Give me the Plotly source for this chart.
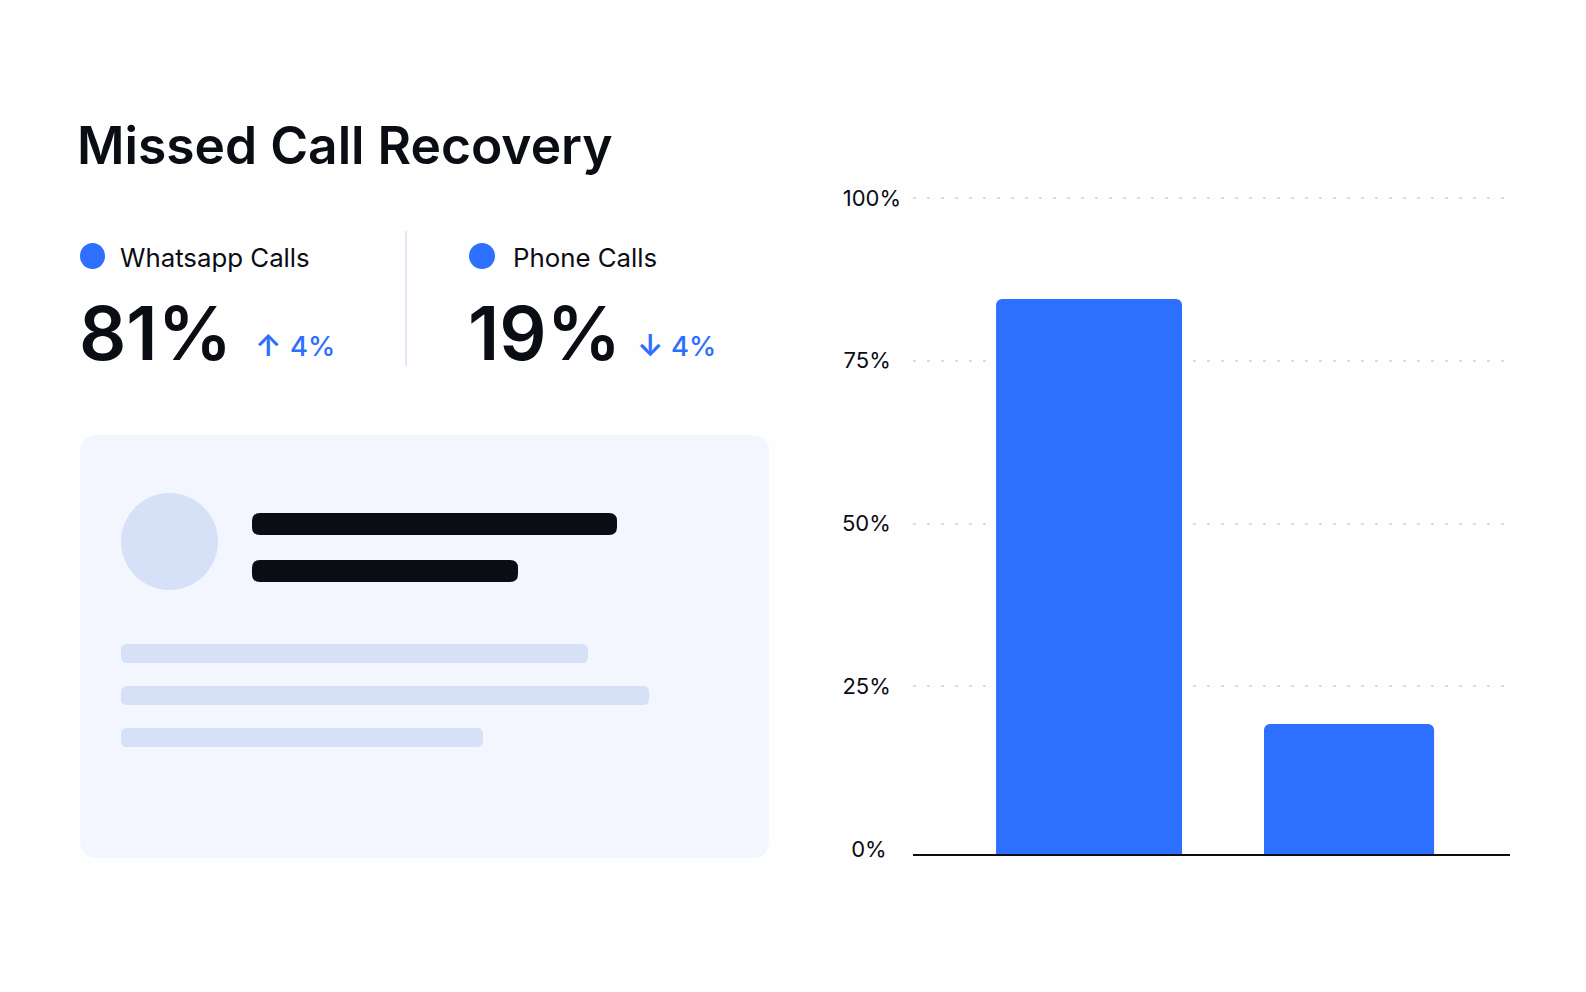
import plotly.graph_objects as go

categories = ["Whatsapp Calls", "Phone Calls"]
bar_values = [84.5, 19.2]
tick_vals = [0, 25, 50, 75, 100]
grid_vals = [25, 50, 75, 100]
tick_text = ["0%\u00a0\u00a0\u200a", "25%\u00a0\u2009", "50%\u00a0\u2009", "75%\u00a0\u2009", "100%"]
kpi_values = ["81%", "19%"]
kpi_arrows = ["↑", "↓"]
kpi_deltas = ["4%", "4%"]

W = 1586
H = 992
BLUE = "#2d6fff"
INK = "#0a0d14"
PALE = "#d6e0f7"
FONT = "Inter"
# the baseline in the picture sits just under the 0% level
AXIS_FLOOR = -0.77
# bars start below the floor so their rounded bottoms get clipped away
BAR_BASE = -4


def px(x):
    return x / W


def py(y):
    return 1 - y / H


def rounded(x0, y0, x1, y1, r, color):
    # rounded rect in page pixels, y going down
    path = (
        f"M {px(x0 + r)} {py(y0)} L {px(x1 - r)} {py(y0)} "
        f"Q {px(x1)} {py(y0)} {px(x1)} {py(y0 + r)} L {px(x1)} {py(y1 - r)} "
        f"Q {px(x1)} {py(y1)} {px(x1 - r)} {py(y1)} L {px(x0 + r)} {py(y1)} "
        f"Q {px(x0)} {py(y1)} {px(x0)} {py(y1 - r)} L {px(x0)} {py(y0 + r)} "
        f"Q {px(x0)} {py(y0)} {px(x0 + r)} {py(y0)} Z"
    )
    return dict(type="path", xref="paper", yref="paper", path=path,
                fillcolor=color, line=dict(width=0), layer="below")


def oval(x0, y0, x1, y1, color):
    return dict(type="circle", xref="paper", yref="paper", x0=px(x0), x1=px(x1),
                y0=py(y1), y1=py(y0), fillcolor=color, line=dict(width=0), layer="below")


def label(text, x, y, size, color=INK, weight=400):
    return dict(text=text, x=px(x), y=py(y), xref="paper", yref="paper",
                xanchor="left", yanchor="middle", showarrow=False, borderpad=0,
                font=dict(family=FONT, size=size, color=color, weight=weight))


shapes = [
    rounded(80, 435, 769, 858, 18, "#f3f6ff"),
    oval(121, 493, 218, 590, PALE),
    rounded(252, 513, 617, 535, 8, INK),
    rounded(252, 560, 518, 582, 8, INK),
    rounded(121, 644, 588, 663, 6, PALE),
    rounded(121, 686, 649, 705, 6, PALE),
    rounded(121, 728, 483, 747, 6, PALE),
    oval(80, 243, 105, 269, BLUE),
    oval(469, 243, 495, 269, BLUE),
    dict(type="line", xref="paper", yref="paper", x0=px(406), x1=px(406),
         y0=py(231), y1=py(366), line=dict(color=PALE, width=1.5)),
]

annotations = [
    label("Missed Call Recovery", 76, 145, 51.5, weight=600),
    label(categories[0], 119, 258, 25.8),
    label(categories[1], 512, 258, 25.8),
    label(kpi_values[0], 78, 333, 74, weight=600),
    label(kpi_values[1], 467, 333, 74, weight=600),
    label(kpi_arrows[0], 254, 345, 30, BLUE, weight=600),
    label(kpi_deltas[0], 289, 346, 27.5, BLUE, weight=500),
    label(kpi_arrows[1], 636, 345, 30, BLUE, weight=600),
    label(kpi_deltas[1], 670, 346, 27.5, BLUE, weight=500),
]

fig = go.Figure(
    go.Bar(x=categories, y=[v - BAR_BASE for v in bar_values], base=BAR_BASE,
           width=[0.715, 0.654], marker=dict(color=BLUE, line=dict(width=0)))
)

fig.update_layout(
    width=W,
    height=H,
    margin=dict(l=0, r=0, t=0, b=0),
    paper_bgcolor="#fefefe",
    plot_bgcolor="rgba(0,0,0,0)",
    showlegend=False,
    barcornerradius=6,
    shapes=shapes,
    annotations=annotations,
    font=dict(family=FONT, color=INK),
    # automargin off, otherwise the tick labels shrink the paper area and everything drifts
    xaxis=dict(domain=[px(913), px(1510)], range=[-0.677, 1.619], showticklabels=False,
               showgrid=False, zeroline=False, showline=True, linecolor=INK, linewidth=2,
               ticks="", automargin=False),
    # top of range sits a bit over 100 so the 100% gridline is still drawn
    # grid goes through minor ticks because there is no dotted line at 0%
    yaxis=dict(domain=[py(854), py(191.5)], range=[AXIS_FLOOR, 101], tickvals=tick_vals, ticktext=tick_text,
               tickfont=dict(family=FONT, size=22, color=INK), ticks="", ticklabelstandoff=11,
               showgrid=False, zeroline=False, showline=False, automargin=False,
               minor=dict(tickvals=grid_vals, ticks="", showgrid=True, gridcolor="#cfdbf7",
                          gridwidth=2, griddash="3px,11px")),
)

# browser default body margin would push the fixed-size figure off the page
fig.write_html("out.html", config=dict(displayModeBar=False),
               post_script="document.body.style.margin='0';")
